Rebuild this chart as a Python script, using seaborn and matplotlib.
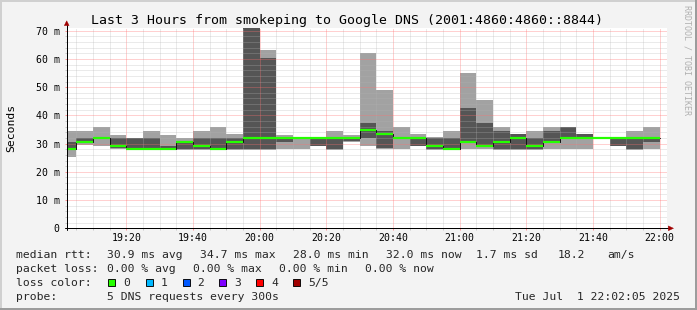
import matplotlib
matplotlib.use("Agg")
import matplotlib.pyplot as plt
import seaborn as sns
import numpy as np
from matplotlib.lines import Line2D
from matplotlib.patches import Polygon, Rectangle

# ---------------- data (ms) ----------------
bin_times = ["19:00", "19:05", "19:10", "19:15", "19:20", "19:25", "19:30", "19:35", "19:40",
             "19:45", "19:50", "19:55", "20:00", "20:05", "20:10", "20:15", "20:20", "20:25",
             "20:30", "20:35", "20:40", "20:45", "20:50", "20:55", "21:00", "21:05", "21:10",
             "21:15", "21:20", "21:25", "21:30", "21:35", "21:40", "21:45", "21:50", "21:55"]
ping_min = [25.4, 29.4, 29.3, 28.0, 27.9, 27.8, 27.8, 27.9, 27.9, 27.8, 27.9, 27.9,
            27.9, 28.0, 28.0, 29.1, 27.9, 30.7, 29.2, 28.0, 28.0, 29.2, 27.9, 27.7,
            28.0, 28.0, 27.9, 27.9, 27.9, 28.0, 28.0, 28.0, 32.0, 29.1, 27.9, 28.0]
ping_2 = [27.9, 30.2, 31.8, 28.5, 28.0, 27.9, 27.9, 28.0, 28.2, 27.9, 28.0, 28.0,
          28.0, 30.7, 32.0, 29.2, 28.0, 30.8, 32.1, 28.3, 31.9, 29.3, 28.0, 27.8,
          30.4, 28.9, 28.0, 28.0, 28.0, 30.6, 32.0, 32.0, 32.05, 29.2, 28.0, 30.7]
ping_median = [28.2, 30.7, 32.1, 29.2, 28.1, 28.1, 28.1, 30.6, 29.2, 28.1, 30.7, 32.1,
               32.1, 32.1, 32.1, 32.1, 32.1, 32.1, 34.7, 33.3, 32.1, 32.1, 29.3, 28.0,
               30.7, 29.3, 30.7, 32.1, 29.3, 30.7, 32.1, 32.1, 32.1, 32.1, 32.1, 32.1]
ping_4 = [30.7, 32.0, 32.4, 32.1, 32.0, 32.1, 29.3, 30.8, 32.1, 32.1, 32.1, 72.0,
          60.4, 32.2, 32.1, 32.2, 32.2, 32.2, 37.3, 34.5, 32.2, 32.2, 32.1, 32.1,
          42.5, 37.4, 34.5, 33.3, 32.1, 34.5, 35.9, 33.3, 32.15, 32.1, 32.2, 32.2]
ping_max = [34.4, 34.4, 36.0, 33.0, 32.1, 34.4, 33.0, 32.1, 34.4, 36.0, 33.4, 80.0,
            63.3, 33.0, 32.2, 32.3, 34.4, 33.0, 62.0, 49.0, 36.0, 33.4, 32.2, 34.4,
            55.1, 45.4, 36.0, 33.4, 34.4, 36.0, 36.0, 33.4, 32.2, 32.2, 34.4, 36.0]
x_tick_labels = ["19:20", "19:40", "20:00", "20:20", "20:40", "21:00", "21:20", "21:40", "22:00"]
y_tick_values = [0, 10, 20, 30, 40, 50, 60, 70]
y_tick_labels = ["0", "10 m", "20 m", "30 m", "40 m", "50 m", "60 m", "70 m"]
window_start = "19:02:05"
window_end = "22:02:05"
bin_minutes = 5

loss_labels = ["0", "1", "2", "3", "4", "5/5"]
loss_colors = ["#26ff00", "#00b8ff", "#0059ff", "#7e00ff", "#ff0000", "#a00000"]


def to_min(s):
    parts = [int(p) for p in s.split(":")]
    while len(parts) < 3:
        parts.append(0)
    return parts[0] * 60 + parts[1] + parts[2] / 60.0


# ---------------- styling ----------------
sns.set_theme(style="white")
MONO = ["DejaVu Sans Mono"]
plt.rcParams["font.family"] = MONO

W, H, DPI = 697, 310, 100
BG = "#f3f3f3"
LIGHT = "#a2a2a2"
DARK = "#555555"
GREEN = "#26ff00"
MGRID = "#ff7070"
GRID = "#b4b4b4"
ARROW = "#a00000"


def fx(x):
    return x / W


def fy(y):
    return 1 - y / H


def pt(px):
    return px * 72.0 / DPI


fig = plt.figure(figsize=(W / DPI, H / DPI), dpi=DPI, facecolor=BG)

AX_L, AX_R, AX_T, AX_B = 66.7, 666.7, 28.3, 228.3
ax = fig.add_axes([fx(AX_L), fy(AX_B), (AX_R - AX_L) / W, (AX_B - AX_T) / H])
ax.set_facecolor("white")

starts = np.array([to_min(t) for t in bin_times])
pmin = np.array(ping_min)
p2 = np.array(ping_2)
pmed = np.array(ping_median)
p4 = np.array(ping_4)
pmax = np.array(ping_max)

# smoke
ax.bar(starts, pmax - pmin, bottom=pmin, width=bin_minutes, align="edge",
       color=LIGHT, linewidth=0, zorder=1)
ax.bar(starts, p4 - p2, bottom=p2, width=bin_minutes, align="edge",
       color=DARK, linewidth=0, zorder=1.5)

# median: thin dark step line + green segments
edges = np.append(starts, starts[-1] + bin_minutes)
med_ext = np.append(pmed, pmed[-1])
sns.lineplot(x=edges, y=med_ext, drawstyle="steps-post", color="#111111",
             linewidth=0.7, ax=ax, zorder=3, legend=False)
ax.hlines(pmed, starts, starts + bin_minutes, color=GREEN, linewidth=pt(2.2), zorder=3.5)

x0, x1 = to_min(window_start), to_min(window_end)
ax.set_xlim(x0, x1)
ax.set_ylim(0, 70.85)

major_x = [to_min(t) for t in x_tick_labels]
minor_x = np.arange(to_min("19:05"), to_min("22:00") + 0.1, 5)
ax.set_xticks(major_x)
ax.set_xticklabels(x_tick_labels)
ax.set_xticks(minor_x, minor=True)
ax.set_yticks(y_tick_values)
ax.set_yticklabels(y_tick_labels)
ax.set_yticks(np.arange(2, 70.5, 2), minor=True)
ax.set_xlabel("")
ax.set_ylabel("")

ax.set_axisbelow(False)
ax.grid(which="minor", color=GRID, alpha=0.55, linestyle=(0, (1, 1)), linewidth=pt(1))
ax.grid(which="major", color=MGRID, alpha=0.65, linestyle=(0, (1, 1)), linewidth=pt(1))

ax.tick_params(axis="both", which="major", direction="out", length=pt(2), width=pt(1),
               color="#ff9090", labelsize=7.1, labelcolor="#000000")
ax.tick_params(axis="both", which="minor", direction="out", length=pt(2), width=pt(1),
               color="#c8c8c8")
ax.tick_params(axis="x", which="major", pad=pt(3.0))
ax.tick_params(axis="y", which="major", pad=pt(5.2))
ax.tick_params(axis="x", which="both", bottom=True)
ax.tick_params(axis="y", which="both", left=True)
for lab in ax.get_xticklabels() + ax.get_yticklabels():
    lab.set_family(MONO)

for s in ax.spines.values():
    s.set_visible(False)

# axis lines and arrows (figure pixel coordinates)
fig.add_artist(Line2D([fx(AX_L - 2), fx(669)], [fy(AX_B), fy(AX_B)], color="black",
                      linewidth=pt(1), zorder=10))
fig.add_artist(Line2D([fx(AX_L), fx(AX_L)], [fy(AX_B + 2), fy(25)], color="black",
                      linewidth=pt(1), zorder=10))
fig.add_artist(Polygon([[fx(668.3), fy(225.9)], [fx(673.5), fy(AX_B)], [fx(668.3), fy(230.7)]],
                       closed=True, facecolor=ARROW, edgecolor=ARROW, linewidth=0.3, zorder=11))
fig.add_artist(Polygon([[fx(64.3), fy(25.6)], [fx(AX_L), fy(20.8)], [fx(69.1), fy(25.6)]],
                       closed=True, facecolor=ARROW, edgecolor=ARROW, linewidth=0.3, zorder=11))

# title & labels
fig.text(fx(347), fy(24), "Last 3 Hours from smokeping to Google DNS (2001:4860:4860::8844)",
         ha="center", va="baseline", fontsize=9.5, family=MONO, color="#000000")
fig.text(fx(10.8), fy(128), "Seconds", rotation=90, ha="center", va="center",
         fontsize=8.2, family=MONO, color="#000000")
fig.text(fx(687.5), fy(5), "RRDTOOL / TOBI OETIKER", rotation=-90, ha="center", va="top",
         fontsize=6.0, family=MONO, color="#b0b0b0")

FS = 8.2
rows_y = [258, 272, 286, 300]
row1 = [(16, "median rtt:"), (107.3, "30.9 ms avg"), (200, "34.7 ms max"),
        (293.3, "28.0 ms min"), (386, "32.0 ms now"), (476, "1.7 ms sd"),
        (557.8, "18.2"), (607.6, "am/s")]
row2 = [(16, "packet loss:"), (107.3, "0.00 % avg"), (193.3, "0.00 % max"),
        (279.3, "0.00 % min"), (365.3, "0.00 % now")]
for xx, tt in row1:
    fig.text(fx(xx), fy(rows_y[0]), tt, ha="left", va="baseline", fontsize=FS, family=MONO)
for xx, tt in row2:
    fig.text(fx(xx), fy(rows_y[1]), tt, ha="left", va="baseline", fontsize=FS, family=MONO)

fig.text(fx(16), fy(rows_y[2]), "loss color:", ha="left", va="baseline", fontsize=FS, family=MONO)
box_x = [108.3, 145.7, 182.7, 219.3, 256.0, 293.3]
lab_x = [123.3, 161.0, 197.3, 234.3, 271.0, 308.3]
for bx, lx, lab, col in zip(box_x, lab_x, loss_labels, loss_colors):
    fig.add_artist(Rectangle((fx(bx), fy(286)), 7.0 / W, 7.3 / H, facecolor=col,
                             edgecolor="#000000", linewidth=pt(0.9), zorder=10))
    fig.text(fx(lx), fy(rows_y[2]), lab, ha="left", va="baseline", fontsize=FS, family=MONO)

fig.text(fx(16), fy(rows_y[3]), "probe:", ha="left", va="baseline", fontsize=FS, family=MONO)
fig.text(fx(107.3), fy(rows_y[3]), "5 DNS requests every 300s", ha="left", va="baseline",
         fontsize=FS, family=MONO)
fig.text(fx(680), fy(rows_y[3]), "Tue Jul  1 22:02:05 2025", ha="right", va="baseline",
         fontsize=FS, family=MONO)

# frame
fig.add_artist(Line2D([0, 1], [fy(1), fy(1)], color="#d0d0d0", linewidth=pt(2)))
fig.add_artist(Line2D([fx(1), fx(1)], [0, 1], color="#d0d0d0", linewidth=pt(2)))
fig.add_artist(Line2D([0, 1], [fy(H - 1), fy(H - 1)], color="#9c9c9c", linewidth=pt(2)))
fig.add_artist(Line2D([fx(W - 1), fx(W - 1)], [0, 1], color="#9c9c9c", linewidth=pt(2)))

fig.savefig("out.png", dpi=DPI, facecolor=BG)
